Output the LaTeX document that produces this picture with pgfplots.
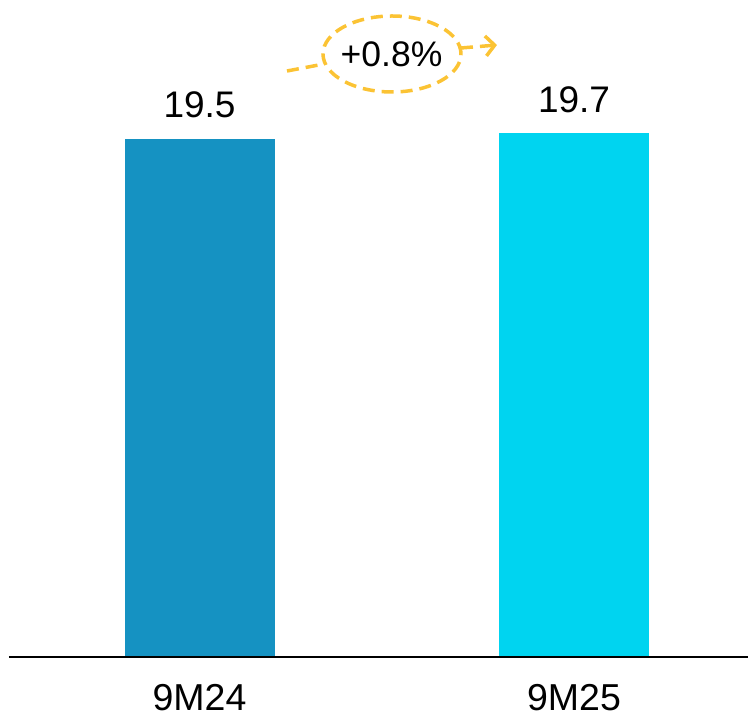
\documentclass[border=0pt]{standalone}
\usepackage{fontspec}
\setmainfont{Liberation Sans}
\usepackage{pgfplots}
\pgfplotsset{compat=1.18}
\usetikzlibrary{arrows.meta}
\definecolor{barA}{RGB}{21,146,194}
\definecolor{barB}{RGB}{0,212,240}
\definecolor{gold}{RGB}{251,195,52}
\begin{document}
\begin{tikzpicture}
\useasboundingbox (0,0) rectangle (748pt,720pt);
\begin{axis}[
  at={(9pt,63pt)}, anchor=south west,
  scale only axis, width=739pt, height=657pt,
  xmin=-0.5087, xmax=1.4646, ymin=0, ymax=24.72,
  axis line style={draw=none},
  major tick length=0pt,
  xtick={0,1}, xticklabels={9M24,9M25},
  ytick=\empty,
  xticklabel style={font=\fontsize{37.5}{44}\selectfont, anchor=base, inner sep=0pt, yshift=-54pt},
  ybar, bar width=150pt,
  clip=false,
  nodes near coords,
  nodes near coords style={font=\fontsize{37}{44}\selectfont, anchor=base, inner sep=0pt, yshift=21pt,
    /pgf/number format/fixed, /pgf/number format/fixed zerofill, /pgf/number format/precision=1,
    /pgf/number format/assume math mode=true},
]
\addplot[draw=none, fill=barA, bar shift=0pt] coordinates {(0,19.5)};
\addplot[draw=none, fill=barB, bar shift=0pt] coordinates {(1,19.7)};
\draw[black, line width=1.5pt] (rel axis cs:0,0) -- (rel axis cs:1,0);
\end{axis}
\begin{scope}[gold, line width=3.5pt, dash pattern=on 12pt off 7pt]
\draw (287pt,649pt) -- (324pt,656pt);
\draw (392pt,666pt) ellipse [x radius=69pt, y radius=38pt];
\draw[-{Straight Barb[length=9pt, width=20pt]}] (461pt,672pt) -- (497pt,675pt);
\end{scope}
\node[font=\fontsize{35.5}{42}\selectfont] at (391.5pt,665.5pt) {+0.8\%};
\end{tikzpicture}
\end{document}
